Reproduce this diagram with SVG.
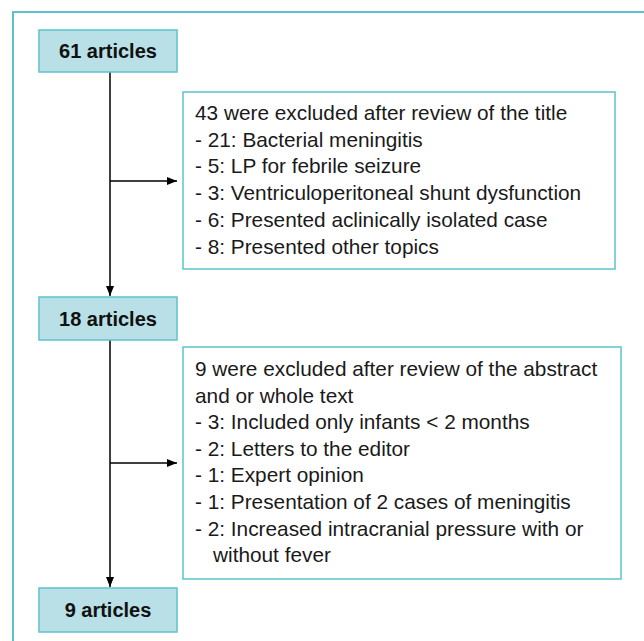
<svg xmlns="http://www.w3.org/2000/svg" width="644" height="641" viewBox="0 0 644 641">
<style>
.frame{fill:none;stroke:#5cc3cd;stroke-width:2}
.main{fill:#b8e0e6;stroke:#5cc3cd;stroke-width:1.5}
.ex{fill:#fff;stroke:#5cc3cd;stroke-width:1.5}
.lbl{font-family:"Liberation Sans",Arial,sans-serif;font-size:20px;font-weight:bold;fill:#111;text-anchor:middle}
.txt{font-family:"Liberation Sans",Arial,sans-serif;font-size:20.8px;fill:#1a1a1a}
.ln{stroke:#000;stroke-width:1.5;fill:none}
</style>
<defs>
<marker id="ah" markerWidth="10" markerHeight="8" refX="10" refY="4" orient="auto" markerUnits="userSpaceOnUse">
<path d="M0,0 L10,4 L0,8 Z" fill="#000"/>
</marker>
</defs>
<rect width="644" height="641" fill="#fff"/>
<rect class="frame" x="13" y="12" width="700" height="700"/>
<g id="connectors">
<line class="ln" x1="110" y1="72" x2="110" y2="296" marker-end="url(#ah)"/>
<line class="ln" x1="110" y1="181" x2="177" y2="181" marker-end="url(#ah)"/>
<line class="ln" x1="110" y1="340" x2="110" y2="587" marker-end="url(#ah)"/>
<line class="ln" x1="110" y1="463" x2="177" y2="463" marker-end="url(#ah)"/>
</g>
<g id="n61">
<rect class="main" x="39" y="30" width="138" height="42"/>
<text class="lbl" x="108" y="58">61 articles</text>
</g>
<g id="ex1">
<rect class="ex" x="183" y="92" width="432" height="177"/>
<text class="txt" x="195" y="120">43 were excluded after review of the title</text>
<text class="txt" x="195" y="147">- 21: Bacterial meningitis</text>
<text class="txt" x="195" y="173">- 5: LP for febrile seizure</text>
<text class="txt" x="195" y="200">- 3: Ventriculoperitoneal shunt dysfunction</text>
<text class="txt" x="195" y="227">- 6: Presented aclinically isolated case</text>
<text class="txt" x="195" y="254">- 8: Presented other topics</text>
</g>
<g id="n18">
<rect class="main" x="39" y="297" width="138" height="43"/>
<text class="lbl" x="108" y="326">18 articles</text>
</g>
<g id="ex2">
<rect class="ex" x="183" y="347" width="438" height="232"/>
<text class="txt" x="195" y="376">9 were excluded after review of the abstract</text>
<text class="txt" x="195" y="403">and or whole text</text>
<text class="txt" x="195" y="429">- 3: Included only infants &lt; 2 months</text>
<text class="txt" x="195" y="456">- 2: Letters to the editor</text>
<text class="txt" x="195" y="482">- 1: Expert opinion</text>
<text class="txt" x="195" y="509">- 1: Presentation of 2 cases of meningitis</text>
<text class="txt" x="195" y="536">- 2: Increased intracranial pressure with or</text>
<text class="txt" x="213" y="562">without fever</text>
</g>
<g id="n9">
<rect class="main" x="39" y="588" width="138" height="44"/>
<text class="lbl" x="108" y="617">9 articles</text>
</g>
</svg>
